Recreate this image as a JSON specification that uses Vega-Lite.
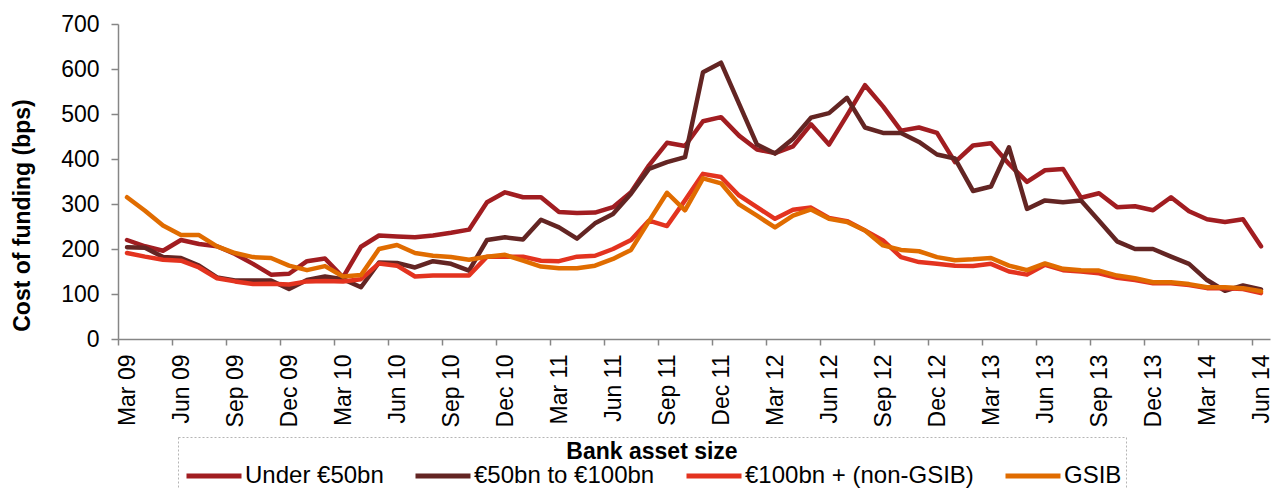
{
  "$schema": "https://vega.github.io/schema/vega-lite/v6.json",
  "width": 1152,
  "height": 315,
  "autosize": {"type": "none"},
  "padding": {"left": 118, "top": 24, "right": 9, "bottom": 150},
  "background": "white",
  "config": {
    "font": "Liberation Sans",
    "view": {"stroke": null},
    "axis": {"grid": false, "domainColor": "#868686", "tickColor": "#868686", "domainWidth": 1.5, "tickWidth": 1.5, "labelColor": "#000000", "titleColor": "#000000", "labelFontSize": 23, "labelFont": "Liberation Sans"},
    "legend": {"strokeColor": "#b5b5b5", "strokeDash": [2, 2]}
  },
  "datasets": {
    "funding": [
      {"m": "Mar 09", "Under €50bn": 220, "€50bn to €100bn": 204, "€100bn + (non-GSIB)": 191, "GSIB": 315},
      {"m": "Apr 09", "Under €50bn": 206, "€50bn to €100bn": 203, "€100bn + (non-GSIB)": 183, "GSIB": 285},
      {"m": "May 09", "Under €50bn": 196, "€50bn to €100bn": 182, "€100bn + (non-GSIB)": 176, "GSIB": 252},
      {"m": "Jun 09", "Under €50bn": 220, "€50bn to €100bn": 180, "€100bn + (non-GSIB)": 174, "GSIB": 231},
      {"m": "Jul 09", "Under €50bn": 211, "€50bn to €100bn": 163, "€100bn + (non-GSIB)": 159, "GSIB": 231},
      {"m": "Aug 09", "Under €50bn": 206, "€50bn to €100bn": 137, "€100bn + (non-GSIB)": 135, "GSIB": 206},
      {"m": "Sep 09", "Under €50bn": 189, "€50bn to €100bn": 130, "€100bn + (non-GSIB)": 128, "GSIB": 191},
      {"m": "Oct 09", "Under €50bn": 167, "€50bn to €100bn": 130, "€100bn + (non-GSIB)": 122, "GSIB": 182},
      {"m": "Nov 09", "Under €50bn": 143, "€50bn to €100bn": 130, "€100bn + (non-GSIB)": 123, "GSIB": 180},
      {"m": "Dec 09", "Under €50bn": 145, "€50bn to €100bn": 111, "€100bn + (non-GSIB)": 121, "GSIB": 163},
      {"m": "Jan 10", "Under €50bn": 173, "€50bn to €100bn": 131, "€100bn + (non-GSIB)": 128, "GSIB": 153},
      {"m": "Feb 10", "Under €50bn": 179, "€50bn to €100bn": 139, "€100bn + (non-GSIB)": 129, "GSIB": 162},
      {"m": "Mar 10", "Under €50bn": 137, "€50bn to €100bn": 133, "€100bn + (non-GSIB)": 128, "GSIB": 139},
      {"m": "Apr 10", "Under €50bn": 205, "€50bn to €100bn": 115, "€100bn + (non-GSIB)": 133, "GSIB": 142},
      {"m": "May 10", "Under €50bn": 230, "€50bn to €100bn": 170, "€100bn + (non-GSIB)": 168, "GSIB": 200},
      {"m": "Jun 10", "Under €50bn": 228, "€50bn to €100bn": 169, "€100bn + (non-GSIB)": 163, "GSIB": 209},
      {"m": "Jul 10", "Under €50bn": 226, "€50bn to €100bn": 159, "€100bn + (non-GSIB)": 139, "GSIB": 191},
      {"m": "Aug 10", "Under €50bn": 230, "€50bn to €100bn": 173, "€100bn + (non-GSIB)": 141, "GSIB": 185},
      {"m": "Sep 10", "Under €50bn": 236, "€50bn to €100bn": 167, "€100bn + (non-GSIB)": 141, "GSIB": 182},
      {"m": "Oct 10", "Under €50bn": 243, "€50bn to €100bn": 152, "€100bn + (non-GSIB)": 141, "GSIB": 176},
      {"m": "Nov 10", "Under €50bn": 304, "€50bn to €100bn": 220, "€100bn + (non-GSIB)": 183, "GSIB": 183},
      {"m": "Dec 10", "Under €50bn": 326, "€50bn to €100bn": 226, "€100bn + (non-GSIB)": 183, "GSIB": 187},
      {"m": "Jan 11", "Under €50bn": 315, "€50bn to €100bn": 221, "€100bn + (non-GSIB)": 183, "GSIB": 174},
      {"m": "Feb 11", "Under €50bn": 315, "€50bn to €100bn": 265, "€100bn + (non-GSIB)": 174, "GSIB": 161},
      {"m": "Mar 11", "Under €50bn": 282, "€50bn to €100bn": 248, "€100bn + (non-GSIB)": 173, "GSIB": 157},
      {"m": "Apr 11", "Under €50bn": 280, "€50bn to €100bn": 223, "€100bn + (non-GSIB)": 183, "GSIB": 157},
      {"m": "May 11", "Under €50bn": 281, "€50bn to €100bn": 257, "€100bn + (non-GSIB)": 185, "GSIB": 163},
      {"m": "Jun 11", "Under €50bn": 293, "€50bn to €100bn": 278, "€100bn + (non-GSIB)": 200, "GSIB": 178},
      {"m": "Jul 11", "Under €50bn": 326, "€50bn to €100bn": 323, "€100bn + (non-GSIB)": 220, "GSIB": 198},
      {"m": "Aug 11", "Under €50bn": 386, "€50bn to €100bn": 378, "€100bn + (non-GSIB)": 263, "GSIB": 262},
      {"m": "Sep 11", "Under €50bn": 436, "€50bn to €100bn": 393, "€100bn + (non-GSIB)": 251, "GSIB": 325},
      {"m": "Oct 11", "Under €50bn": 429, "€50bn to €100bn": 404, "€100bn + (non-GSIB)": 308, "GSIB": 286},
      {"m": "Nov 11", "Under €50bn": 484, "€50bn to €100bn": 593, "€100bn + (non-GSIB)": 367, "GSIB": 357},
      {"m": "Dec 11", "Under €50bn": 493, "€50bn to €100bn": 614, "€100bn + (non-GSIB)": 360, "GSIB": 346},
      {"m": "Jan 12", "Under €50bn": 452, "€50bn to €100bn": 523, "€100bn + (non-GSIB)": 319, "GSIB": 299},
      {"m": "Feb 12", "Under €50bn": 421, "€50bn to €100bn": 432, "€100bn + (non-GSIB)": 293, "GSIB": 274},
      {"m": "Mar 12", "Under €50bn": 413, "€50bn to €100bn": 412, "€100bn + (non-GSIB)": 267, "GSIB": 248},
      {"m": "Apr 12", "Under €50bn": 428, "€50bn to €100bn": 445, "€100bn + (non-GSIB)": 287, "GSIB": 274},
      {"m": "May 12", "Under €50bn": 477, "€50bn to €100bn": 492, "€100bn + (non-GSIB)": 292, "GSIB": 288},
      {"m": "Jun 12", "Under €50bn": 432, "€50bn to €100bn": 502, "€100bn + (non-GSIB)": 269, "GSIB": 267},
      {"m": "Jul 12", "Under €50bn": 497, "€50bn to €100bn": 536, "€100bn + (non-GSIB)": 262, "GSIB": 260},
      {"m": "Aug 12", "Under €50bn": 564, "€50bn to €100bn": 470, "€100bn + (non-GSIB)": 241, "GSIB": 241},
      {"m": "Sep 12", "Under €50bn": 517, "€50bn to €100bn": 458, "€100bn + (non-GSIB)": 219, "GSIB": 208},
      {"m": "Oct 12", "Under €50bn": 463, "€50bn to €100bn": 458, "€100bn + (non-GSIB)": 182, "GSIB": 198},
      {"m": "Nov 12", "Under €50bn": 470, "€50bn to €100bn": 438, "€100bn + (non-GSIB)": 171, "GSIB": 195},
      {"m": "Dec 12", "Under €50bn": 458, "€50bn to €100bn": 410, "€100bn + (non-GSIB)": 167, "GSIB": 182},
      {"m": "Jan 13", "Under €50bn": 393, "€50bn to €100bn": 401, "€100bn + (non-GSIB)": 163, "GSIB": 175},
      {"m": "Feb 13", "Under €50bn": 430, "€50bn to €100bn": 329, "€100bn + (non-GSIB)": 162, "GSIB": 177},
      {"m": "Mar 13", "Under €50bn": 435, "€50bn to €100bn": 339, "€100bn + (non-GSIB)": 167, "GSIB": 180},
      {"m": "Apr 13", "Under €50bn": 389, "€50bn to €100bn": 426, "€100bn + (non-GSIB)": 150, "GSIB": 163},
      {"m": "May 13", "Under €50bn": 349, "€50bn to €100bn": 289, "€100bn + (non-GSIB)": 143, "GSIB": 153},
      {"m": "Jun 13", "Under €50bn": 375, "€50bn to €100bn": 308, "€100bn + (non-GSIB)": 165, "GSIB": 168},
      {"m": "Jul 13", "Under €50bn": 378, "€50bn to €100bn": 304, "€100bn + (non-GSIB)": 153, "GSIB": 156},
      {"m": "Aug 13", "Under €50bn": 314, "€50bn to €100bn": 308, "€100bn + (non-GSIB)": 150, "GSIB": 153},
      {"m": "Sep 13", "Under €50bn": 324, "€50bn to €100bn": 263, "€100bn + (non-GSIB)": 146, "GSIB": 152},
      {"m": "Oct 13", "Under €50bn": 293, "€50bn to €100bn": 217, "€100bn + (non-GSIB)": 136, "GSIB": 141},
      {"m": "Nov 13", "Under €50bn": 295, "€50bn to €100bn": 200, "€100bn + (non-GSIB)": 131, "GSIB": 135},
      {"m": "Dec 13", "Under €50bn": 286, "€50bn to €100bn": 200, "€100bn + (non-GSIB)": 124, "GSIB": 126},
      {"m": "Jan 14", "Under €50bn": 315, "€50bn to €100bn": 183, "€100bn + (non-GSIB)": 124, "GSIB": 126},
      {"m": "Feb 14", "Under €50bn": 284, "€50bn to €100bn": 167, "€100bn + (non-GSIB)": 120, "GSIB": 122},
      {"m": "Mar 14", "Under €50bn": 266, "€50bn to €100bn": 131, "€100bn + (non-GSIB)": 113, "GSIB": 115},
      {"m": "Apr 14", "Under €50bn": 260, "€50bn to €100bn": 107, "€100bn + (non-GSIB)": 113, "GSIB": 115},
      {"m": "May 14", "Under €50bn": 266, "€50bn to €100bn": 119, "€100bn + (non-GSIB)": 111, "GSIB": 113},
      {"m": "Jun 14", "Under €50bn": 206, "€50bn to €100bn": 110, "€100bn + (non-GSIB)": 102, "GSIB": 106}
    ]
  },
  "data": {"name": "funding"},
  "transform": [
    {"fold": ["Under €50bn", "€50bn to €100bn", "€100bn + (non-GSIB)", "GSIB"], "as": ["series", "value"]}
  ],
  "mark": {"type": "line", "strokeWidth": 4.5, "strokeJoin": "round", "strokeCap": "round"},
  "encoding": {
    "x": {
      "field": "m",
      "type": "ordinal",
      "sort": null,
      "scale": {"type": "point", "padding": 0.5},
      "axis": {
        "title": null,
        "values": ["Mar 09", "Jun 09", "Sep 09", "Dec 09", "Mar 10", "Jun 10", "Sep 10", "Dec 10", "Mar 11", "Jun 11", "Sep 11", "Dec 11", "Mar 12", "Jun 12", "Sep 12", "Dec 12", "Mar 13", "Jun 13", "Sep 13", "Dec 13", "Mar 14", "Jun 14"],
        "labelAngle": -90,
        "labelAlign": "right",
        "labelBaseline": "middle",
        "labelPadding": 9,
        "tickSize": 6,
        "tickOffset": -9,
        "labelOffset": 9,
        "labelOverlap": false,
        "labelBound": false,
        "labelFlush": false
      }
    },
    "y": {
      "field": "value",
      "type": "quantitative",
      "scale": {"domain": [0, 700], "nice": false, "zero": true},
      "axis": {
        "title": "Cost of funding (bps)",
        "values": [0, 100, 200, 300, 400, 500, 600, 700],
        "tickSize": 7,
        "labelPadding": 12,
        "titleFontSize": 23,
        "titleFontWeight": "bold",
        "titleFont": "Liberation Sans",
        "titleAngle": -90,
        "titleAlign": "center",
        "titleBaseline": "middle",
        "titleX": -96,
        "titleY": 191
      }
    },
    "color": {
      "field": "series",
      "type": "nominal",
      "scale": {
        "domain": ["Under €50bn", "€50bn to €100bn", "€100bn + (non-GSIB)", "GSIB"],
        "range": ["#A11D21", "#632523", "#E3331F", "#E06C00"]
      },
      "legend": {
        "title": "Bank asset size",
        "orient": "none",
        "legendX": 60,
        "legendY": 413,
        "direction": "horizontal",
        "titleAnchor": "middle",
        "titleFontSize": 23,
        "titleFontWeight": "bold",
        "titleFont": "Liberation Sans",
        "titleColor": "#000000",
        "titlePadding": 0,
        "labelFontSize": 24,
        "labelFont": "Liberation Sans",
        "labelColor": "#000000",
        "labelLimit": 400,
        "labelOffset": 19,
        "symbolOffset": 20,
        "columnPadding": 21,
        "symbolType": "M-5,0H5",
        "symbolStrokeWidth": 5,
        "symbolSize": 121,
        "padding": 4
      }
    }
  }
}
